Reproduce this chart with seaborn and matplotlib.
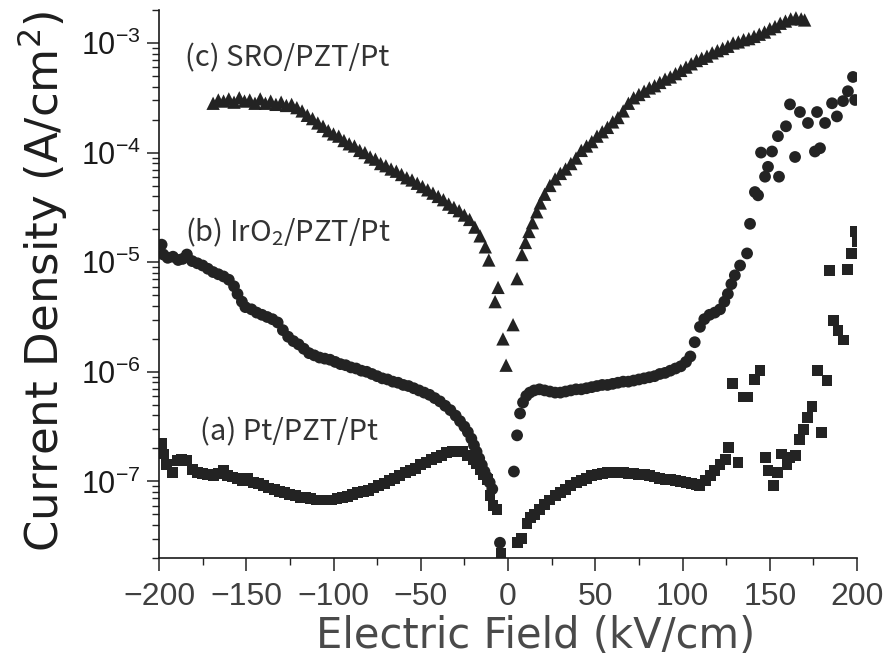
import numpy as np
import pandas as pd
import matplotlib
matplotlib.use("Agg")
import matplotlib.pyplot as plt
import seaborn as sns
from matplotlib.ticker import LogLocator, MultipleLocator, NullFormatter

# ---- measured J-E data (field in kV/cm, log10 of current density in A/cm^2) ----
# (c) SRO/PZT/Pt
field_c = [-169, -166, -163, -160, -157, -154, -151, -148, -145, -142, -139, -136, -133, -130,
           -127, -124, -121, -118, -115, -112, -109, -106, -103, -100, -97, -94, -91, -88, -85,
           -82, -79, -76, -73, -70, -67, -64, -61, -58, -55, -52, -49, -46, -43, -40, -37, -34,
           -31, -28, -25, -22, -19, -16, -13, -11, -7.4, -5.7, -2.9, -1.1, 2.9, 5.2,
           8.0, 10, 12, 14, 16.5, 18.5, 21, 24, 27, 30, 33, 36, 39, 42, 45, 48, 51, 54, 57, 60,
           63, 66, 69, 72, 75, 78, 81, 84, 87, 90, 93, 96, 99, 102, 105, 108, 111, 114, 117,
           120, 123, 126, 129, 132, 135, 138, 141, 144, 147, 150, 153, 156, 159, 162, 165, 168, 170]
logj_c = [-3.55, -3.52, -3.53, -3.51, -3.54, -3.50, -3.53, -3.52, -3.55, -3.51, -3.55, -3.53, -3.56, -3.54,
          -3.57, -3.56, -3.59, -3.62, -3.66, -3.69, -3.73, -3.76, -3.80, -3.83, -3.85, -3.89, -3.92, -3.94, -3.98,
          -4.00, -4.04, -4.06, -4.10, -4.12, -4.15, -4.17, -4.20, -4.23, -4.25, -4.28, -4.31, -4.34, -4.37, -4.40,
          -4.43, -4.47, -4.50, -4.53, -4.57, -4.61, -4.68, -4.76, -4.86, -4.98, -5.36, -5.23, -5.70, -5.94, -5.57, -5.15,
          -4.93, -4.82, -4.72, -4.64, -4.54, -4.46, -4.38, -4.30, -4.24, -4.19, -4.15, -4.10, -4.05, -3.98, -3.94,
          -3.90, -3.85, -3.81, -3.77, -3.72, -3.68, -3.62, -3.55, -3.50, -3.47, -3.44, -3.41, -3.39, -3.36, -3.33,
          -3.31, -3.28, -3.25, -3.22, -3.19, -3.16, -3.14, -3.12, -3.09, -3.07, -3.05, -3.03, -3.00, -2.99, -2.97,
          -2.96, -2.94, -2.92, -2.90, -2.87, -2.85, -2.82, -2.80, -2.78, -2.77, -2.78, -2.79]

# (b) IrO2/PZT/Pt
field_b = [-198.5, -197.5, -195, -192, -189, -186.5, -184, -181, -178, -175, -172, -169, -166, -163, -160,
           -157, -155, -152.5, -150.5, -147, -144, -141, -138, -135, -132, -129, -126, -123, -120, -117,
           -114, -111, -108, -105, -102, -99, -96, -93, -90, -87, -84, -81, -78, -75, -72, -69, -66, -63,
           -60, -57, -54, -51, -48, -45, -42, -39, -36, -33, -30, -27.5, -25, -23, -21, -19.5, -18, -16.5,
           -15, -13.5, -12, -10.5, -9, -4.6,
           3.4, 5.2, 6.9, 8.6, 10.5, 12.5, 15, 18, 21, 24, 27, 30, 33, 36, 39, 42, 45, 48, 51, 54, 57, 60,
           63, 66, 69, 72, 75, 78, 81, 84, 87, 90, 93, 96, 99, 102, 104.5, 107, 110, 112.5, 115.5, 118.5,
           121.5, 124, 126, 128, 130, 133, 137, 138.7, 141.5, 143.3, 145, 147.3, 149, 151.3, 154.7, 155.3,
           159.3, 161.6, 164.5, 167.3, 171.9, 175.9, 177.1, 178.8, 181.7, 185.7, 188.5, 192, 194.8, 197.7, 198.9]
logj_b = [-4.84, -4.93, -4.96, -4.95, -4.98, -4.97, -4.93, -4.99, -5.01, -5.03, -5.06, -5.09, -5.11, -5.13, -5.16,
          -5.22, -5.29, -5.36, -5.41, -5.43, -5.46, -5.48, -5.50, -5.52, -5.55, -5.62, -5.68, -5.72, -5.75, -5.79,
          -5.83, -5.85, -5.87, -5.88, -5.89, -5.91, -5.93, -5.94, -5.96, -5.97, -5.99, -6.00, -6.02, -6.04, -6.06,
          -6.07, -6.09, -6.10, -6.12, -6.13, -6.15, -6.17, -6.19, -6.21, -6.24, -6.27, -6.31, -6.35, -6.40, -6.45,
          -6.50, -6.55, -6.61, -6.67, -6.73, -6.79, -6.85, -6.91, -6.96, -7.01, -7.07, -7.56,
          -6.91, -6.58, -6.38, -6.28, -6.22, -6.19, -6.17, -6.16, -6.17, -6.18, -6.19, -6.19, -6.18, -6.17, -6.16,
          -6.16, -6.15, -6.14, -6.13, -6.12, -6.12, -6.11, -6.10, -6.09, -6.09, -6.08, -6.07, -6.06, -6.05, -6.04,
          -6.02, -6.01, -5.99, -5.97, -5.95, -5.91, -5.86, -5.73, -5.59, -5.52, -5.48, -5.46, -5.43, -5.36, -5.29,
          -5.20, -5.12, -5.03, -4.92, -4.65, -4.36, -4.39, -4.00, -4.22, -4.13, -3.99, -3.85, -4.22, -3.76, -3.56,
          -4.04, -3.63, -3.73, -3.99, -3.63, -3.96, -3.73, -3.55, -3.67, -3.53, -3.44, -3.31, -3.52]

# (a) Pt/PZT/Pt
field_a = [-198.5, -197.5, -195.5, -192.5, -189.5, -187, -184, -181, -178, -175, -172, -169, -166, -163, -161,
           -158, -155, -152, -149, -146, -143, -140, -137, -134, -131, -128, -125, -122, -119, -116, -113,
           -110, -107, -104, -101, -98, -95, -92, -89, -86, -83, -80, -77, -74, -71, -68, -65, -62, -59, -56,
           -53, -50, -47, -44, -41, -38, -35, -32, -29, -26, -23, -20, -18, -16, -14, -12, -10.3, -8.6, -6.3, -4.0,
           5.7, 8.0, 10.9, 13, 15, 18, 21, 24, 27, 30, 33, 36, 39, 42, 45, 48, 51, 54, 57, 60, 63, 66, 69, 72,
           75, 78, 81, 84, 87, 90, 93, 96, 99, 102, 105, 108, 110, 113, 115.8, 118.5, 121.5, 124.4, 126.1, 131.8,
           128.9, 134.7, 137.5, 141.5, 144.4, 147.3, 149.0, 151.9, 154.7, 157.0, 159.9, 161.6, 164.5, 167.3,
           169.1, 171.9, 174.2, 179.9, 177.1, 182.8, 184.0, 186.3, 189.1, 192.0, 194.3, 197.1, 199.4, 200]
logj_a = [-6.65, -6.75, -6.85, -6.92, -6.81, -6.80, -6.81, -6.89, -6.92, -6.93, -6.94, -6.95, -6.93, -6.90, -6.95,
          -6.96, -6.97, -6.99, -6.97, -7.01, -7.02, -7.04, -7.06, -7.07, -7.09, -7.10, -7.12, -7.13, -7.15, -7.15,
          -7.16, -7.17, -7.17, -7.17, -7.17, -7.16, -7.15, -7.14, -7.12, -7.10, -7.09, -7.08, -7.06, -7.04, -7.02,
          -6.99, -6.97, -6.95, -6.92, -6.90, -6.88, -6.85, -6.83, -6.80, -6.78, -6.76, -6.74, -6.73, -6.73, -6.73,
          -6.76, -6.80, -6.84, -6.89, -6.94, -6.98, -7.13, -7.22, -7.26, -7.66,
          -7.56, -7.52, -7.38, -7.33, -7.30, -7.26, -7.21, -7.17, -7.13, -7.10, -7.07, -7.04, -7.01, -6.99, -6.97,
          -6.95, -6.94, -6.93, -6.92, -6.92, -6.92, -6.92, -6.93, -6.93, -6.94, -6.94, -6.95, -6.96, -6.97, -6.98,
          -6.98, -6.99, -7.00, -7.01, -7.02, -7.03, -7.04, -6.99, -6.95, -6.90, -6.85, -6.80, -6.69, -6.83,
          -6.11, -6.23, -6.23, -6.07, -5.99, -6.78, -6.90, -7.04, -6.92, -6.75, -6.85, -6.78, -6.76, -6.62,
          -6.53, -6.42, -6.32, -6.55, -5.99, -6.08, -5.08, -5.53, -5.62, -5.71, -5.07, -4.92, -4.72, -4.81]

x_ticks = [-200, -150, -100, -50, 0, 50, 100, 150, 200]
y_ticks = [1e-7, 1e-6, 1e-5, 1e-4, 1e-3]
y_tick_labels = [r"$\mathregular{10^{-7}}$", r"$\mathregular{10^{-6}}$", r"$\mathregular{10^{-5}}$",
                 r"$\mathregular{10^{-4}}$", r"$\mathregular{10^{-3}}$"]

frames = []
for name, f, lj in [("a", field_a, logj_a), ("b", field_b, logj_b), ("c", field_c, logj_c)]:
    frames.append(pd.DataFrame({"field": f, "current": 10.0 ** np.asarray(lj), "sample": name}))
data = pd.concat(frames, ignore_index=True)

sns.set_theme(style="ticks")
plt.rcParams["font.family"] = ["Liberation Sans", "DejaVu Sans"]
plt.rcParams["mathtext.default"] = "regular"

fig = plt.figure(figsize=(8.92, 6.56), dpi=100)
ax = fig.add_axes([159 / 892, 98 / 656, 698 / 892, 548 / 656])

ink = "#232323"
sns.scatterplot(data=data, x="field", y="current", style="sample",
                markers={"a": "s", "b": "o", "c": "^"},
                size="sample", sizes={"a": 62, "b": 72, "c": 92},
                color=ink, edgecolor="none", linewidth=0, legend=False, ax=ax)

ax.set_yscale("log")
ax.set_xlim(-200, 200)
ax.set_ylim(2e-8, 2e-3)

ax.set_xticks(x_ticks)
ax.set_xticklabels([str(v).replace("-", "\u2212") for v in x_ticks])
ax.xaxis.set_minor_locator(MultipleLocator(25))
ax.set_yticks(y_ticks)
ax.set_yticklabels(y_tick_labels)
ax.yaxis.set_minor_locator(LogLocator(base=10, subs=np.arange(2, 10)))
ax.yaxis.set_minor_formatter(NullFormatter())

for lab in ax.get_xticklabels():
    lab.set_fontsize(23)
    lab.set_color("#404040")
for lab in ax.get_yticklabels():
    lab.set_fontsize(22)
    lab.set_color("#1a1a1a")

ax.tick_params(axis="both", which="major", direction="out", length=9, width=1.1, color="#222222")
ax.tick_params(axis="both", which="minor", direction="out", length=5, width=1.0, color="#222222")
ax.tick_params(axis="x", which="major", pad=8)
ax.tick_params(axis="y", which="major", pad=4)

sns.despine(ax=ax)
for side in ("left", "bottom"):
    ax.spines[side].set_linewidth(1.2)
    ax.spines[side].set_color("#1a1a1a")

label_font = ["DejaVu Sans"]
ax.set_xlabel("Electric Field (kV/cm)", fontsize=30, color="#4a4a4a", family=label_font)
ax.xaxis.label.set_verticalalignment("center")
ax.xaxis.set_label_coords(0.539, -0.142)
ax.set_ylabel(r"Current Density (A/cm$^{2}$)", fontsize=32.5, color="#1e1e1e", family=label_font)
ax.yaxis.label.set_verticalalignment("center")
ax.yaxis.label.set_horizontalalignment("center")
ax.yaxis.set_label_coords(-0.166, 0.505)

note_font = ["Noto Sans CJK JP", "DejaVu Sans"]
ax.text(0.037, 0.912, "(c) SRO/PZT/Pt", transform=ax.transAxes, fontsize=21,
        family=note_font, color="#333333", ha="left", va="center")
ax.text(0.037, 0.595, r"(b) IrO$_{2}$/PZT/Pt", transform=ax.transAxes, fontsize=21,
        family=note_font, color="#333333", ha="left", va="center")
ax.text(0.059, 0.230, "(a) Pt/PZT/Pt", transform=ax.transAxes, fontsize=21,
        family=note_font, color="#333333", ha="left", va="center")

fig.savefig("out.png", dpi=100)
